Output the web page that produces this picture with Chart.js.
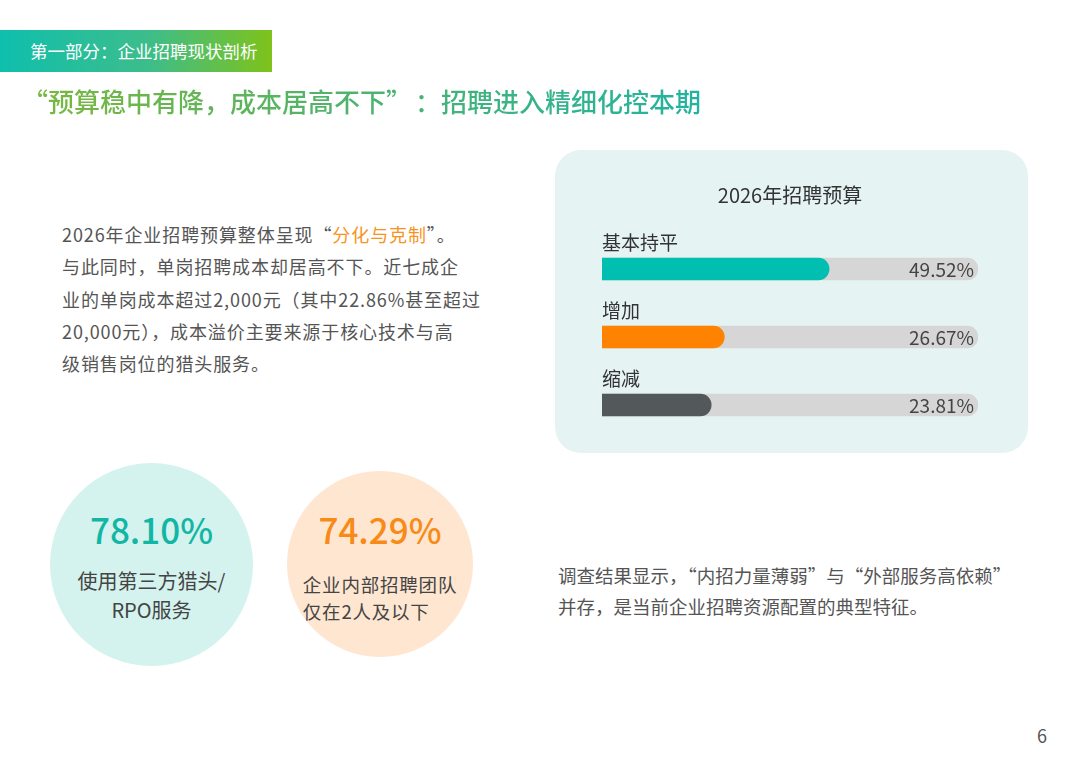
<!DOCTYPE html>
<html lang="zh-CN">
<head>
<meta charset="utf-8">
<script src="https://cdn.jsdelivr.net/npm/chart.js@4.4.1/dist/chart.umd.min.js"></script>
<style>
  html, body { margin: 0; padding: 0; background: #ffffff; }
  body { width: 1080px; height: 763px; position: relative; overflow: hidden;
         font-family: "Noto Sans CJK SC", "Noto Sans", sans-serif; }
  .band { position: absolute; left: 0; top: 30px; width: 272px; height: 42px;
          background: linear-gradient(90deg, #0fbfae 0%, #3dbd8a 55%, #7fc21a 100%); }
  .band span { position: absolute; left: 30px; top: 0; line-height: 42px; color: #fff;
               font-size: 17.5px; white-space: nowrap; }
  .title { position: absolute; left: 22px; top: 84px; font-size: 26px; font-weight: 500;
           line-height: 34px; white-space: nowrap;
           background: linear-gradient(90deg, #7bb83c 0%, #52b36a 45%, #22b3a0 100%);
           -webkit-background-clip: text; background-clip: text; color: transparent; }
  .gap { margin-right: 16px; }
  .para { position: absolute; left: 62px; top: 218px; font-size: 18px; line-height: 32.3px;
          color: #555; letter-spacing: 0.9px; white-space: nowrap; }
  .para em { font-style: normal; color: #f7941d; }
  .panel { position: absolute; left: 555px; top: 150px; width: 473px; height: 303px;
           border-radius: 26px; background: #e5f3f2; }
  #bars { position: absolute; left: 555px; top: 150px; }
  .circle { position: absolute; border-radius: 50%; }
  .c1 { left: 50px; top: 463px; width: 203px; height: 203px; background: #d4f3ee; }
  .c2 { left: 287px; top: 471px; width: 186px; height: 186px; background: #fee6d1; }
  .num { position: absolute; left: 0; width: 100%; text-align: center; font-size: 35px;
         font-weight: 500; line-height: 44px; }
  .c1 .num { top: 44px; color: #12b6a4; }
  .c2 .num { top: 36px; color: #f88a17; }
  .sub { position: absolute; left: 0; width: 100%; text-align: center; color: #444; white-space: nowrap; }
  .c1 .sub { top: 104px; font-size: 20px; line-height: 28.5px; }
  .c2 .sub { top: 100px; font-size: 18.5px; line-height: 27px; letter-spacing: 0.8px; }
  .c2 .sub div { display: inline-block; text-align: left; }
  .note { position: absolute; left: 558px; top: 560px; font-size: 18.5px; line-height: 31px;
          color: #555; white-space: nowrap; }
  .page { position: absolute; left: 1037px; top: 722px; font-size: 18px; color: #555; }
</style>
</head>
<body>
<div class="band"><span>第一部分：企业招聘现状剖析</span></div>
<div class="title">“预算稳中有降，成本居高不下<span class="gap">”</span>：招聘进入精细化控本期</div>
<div class="para">2026年企业招聘预算整体呈现“<em>分化与克制</em>”。<br>与此同时，单岗招聘成本却居高不下。近七成企<br>业的单岗成本超过2,000元（其中22.86%甚至超过<br>20,000元），成本溢价主要来源于核心技术与高<br>级销售岗位的猎头服务。</div>

<div class="panel"></div>
<canvas id="bars" width="473" height="303"></canvas>

<div class="circle c1">
  <div class="num">78.10%</div>
  <div class="sub">使用第三方猎头/<br>RPO服务</div>
</div>
<div class="circle c2">
  <div class="num">74.29%</div>
  <div class="sub"><div>企业内部招聘团队<br>仅在2人及以下</div></div>
</div>

<div class="note">调查结果显示，“内招力量薄弱”与“外部服务高依赖”<br>并存，是当前企业招聘资源配置的典型特征。</div>
<div class="page">6</div>

<script>
// ---- data ----
const chartTitle = "2026年招聘预算";
const categories = ["基本持平", "增加", "缩减"];
const budgetShare = [49.52, 26.67, 23.81];
const valueLabels = ["49.52%", "26.67%", "23.81%"];
const barColors = ["#00bfb0", "#ff8300", "#53585a"];
const trackMax = 82;

const trackValues = categories.map(() => trackMax);

const labelPlugin = {
  id: "barLabels",
  afterDatasetsDraw(chart) {
    const ctx = chart.ctx;
    const meta = chart.getDatasetMeta(0);
    const xs = chart.scales.x;
    ctx.save();
    ctx.font = '19px "Noto Sans CJK SC", "Noto Sans", sans-serif';
    ctx.textBaseline = "middle";
    meta.data.forEach((bar, i) => {
      ctx.fillStyle = "#333";
      ctx.textAlign = "left";
      ctx.fillText(categories[i], chart.chartArea.left, bar.y - 26);
      ctx.fillStyle = "#444";
      ctx.textAlign = "right";
      ctx.fillText(valueLabels[i], xs.getPixelForValue(trackMax) - 4, bar.y + 1);
    });
    ctx.restore();
  }
};

new Chart(document.getElementById("bars"), {
  type: "bar",
  data: {
    labels: categories,
    datasets: [
      { data: budgetShare, backgroundColor: barColors, barThickness: 22,
        borderRadius: 11, borderSkipped: "start", grouped: false, order: 1 },
      { data: trackValues, backgroundColor: "#d6d6d6", barThickness: 22,
        borderRadius: 11, borderSkipped: "start", grouped: false, order: 2 }
    ]
  },
  options: {
    indexAxis: "y",
    responsive: false,
    animation: false,
    layout: { padding: { left: 47, right: 50, top: 10, bottom: 14 } },
    scales: {
      x: { display: false, min: 0, max: trackMax },
      y: { display: false }
    },
    plugins: {
      legend: { display: false },
      tooltip: { enabled: false },
      title: { display: true, text: chartTitle, color: "#333",
               font: { size: 20, family: '"Noto Sans CJK SC", "Noto Sans", sans-serif', weight: "normal" },
               padding: { top: 23, bottom: 28 } }
    }
  },
  plugins: [labelPlugin]
});
</script>
</body>
</html>
